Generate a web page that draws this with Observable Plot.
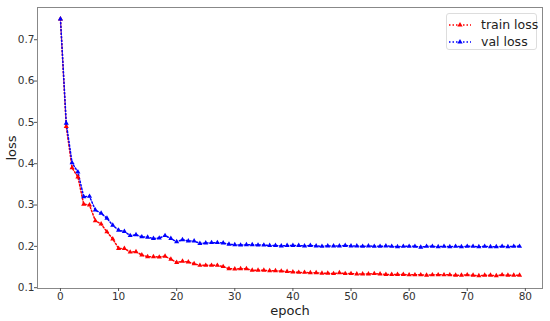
<!DOCTYPE html>
<html>
<head>
<meta charset="utf-8">
<script src="https://cdn.jsdelivr.net/npm/d3@7"></script>
<script src="https://cdn.jsdelivr.net/npm/@observablehq/plot@0.6"></script>
<style>
  html, body { margin: 0; padding: 0; background: #fff; }
  #wrap { position: relative; width: 550px; height: 321px; font-family: "DejaVu Sans", sans-serif; }
  #legend { position: absolute; left: 446px; top: 13px; width: 91px; height: 37px; border: 1px solid #ddd; border-radius: 3px; background: rgba(255,255,255,0.85); font-size: 12.5px; color: #222; box-sizing: border-box; }
  .row { position: absolute; left: 1px; height: 17px; display: flex; align-items: center; white-space: nowrap; }
  .row span { margin-left: 9px; }
</style>
</head>
<body>
<div id="wrap"></div>
<script>
const epochs = d3.range(0, 80);
const trainLoss = [0.750,0.490,0.390,0.368,0.302,0.300,0.262,0.254,0.235,0.218,
  0.195,0.195,0.186,0.187,0.179,0.175,0.175,0.174,0.176,0.169,
  0.161,0.164,0.162,0.158,0.154,0.154,0.154,0.154,0.151,0.146,
  0.145,0.146,0.146,0.142,0.142,0.142,0.141,0.141,0.140,0.139,
  0.138,0.137,0.137,0.136,0.136,0.135,0.135,0.134,0.136,0.134,
  0.134,0.133,0.133,0.133,0.134,0.133,0.132,0.132,0.132,0.132,
  0.131,0.131,0.131,0.130,0.131,0.131,0.131,0.131,0.130,0.130,
  0.131,0.130,0.129,0.130,0.130,0.129,0.131,0.130,0.130,0.130];
const valLoss = [0.750,0.498,0.402,0.380,0.320,0.321,0.288,0.280,0.268,0.251,
  0.239,0.236,0.226,0.228,0.223,0.222,0.219,0.220,0.226,0.219,
  0.211,0.216,0.213,0.213,0.207,0.208,0.209,0.209,0.208,0.205,
  0.204,0.203,0.204,0.204,0.203,0.203,0.202,0.202,0.201,0.202,
  0.202,0.202,0.201,0.202,0.201,0.200,0.201,0.201,0.201,0.202,
  0.201,0.201,0.200,0.201,0.200,0.200,0.201,0.200,0.199,0.200,
  0.200,0.200,0.198,0.200,0.200,0.199,0.200,0.199,0.200,0.199,
  0.200,0.200,0.199,0.200,0.199,0.199,0.200,0.199,0.200,0.200];
const seriesNames = ["train loss", "val loss"];
const seriesColors = ["red", "blue"];
const xTicks = [0, 10, 20, 30, 40, 50, 60, 70, 80];
const yTicks = [0.1, 0.2, 0.3, 0.4, 0.5, 0.6, 0.7];

const data = [];
epochs.forEach((e, i) => {
  data.push({epoch: e, loss: trainLoss[i], series: seriesNames[0]});
  data.push({epoch: e, loss: valLoss[i], series: seriesNames[1]});
});

const plot = Plot.plot({
  width: 550,
  height: 321,
  marginLeft: 37,
  marginRight: 8,
  marginTop: 7,
  marginBottom: 33,
  style: {fontFamily: "DejaVu Sans, sans-serif", fontSize: "10.5px", color: "#333", background: "white"},
  x: {domain: [-3.95, 82.95]},
  y: {domain: [0.098, 0.778]},
  color: {domain: seriesNames, range: seriesColors},
  marks: [
    Plot.frame({stroke: "#888", strokeWidth: 1}),
    Plot.axisX({ticks: xTicks, tickSize: 3, tickPadding: 1, stroke: "#555", label: null, fontSize: 10.5}),
    Plot.axisY({ticks: yTicks, tickSize: 3, tickPadding: 0, stroke: "#555", label: null, tickFormat: d3.format(".1f"), fontSize: 10.5}),
    Plot.line(data, {x: "epoch", y: "loss", z: "series", stroke: "series", strokeWidth: 1.5, strokeDasharray: "1.5,2"}),
    Plot.dot(data, {x: "epoch", y: "loss", fill: "series", symbol: "triangle", r: 1.9, stroke: null}),
    Plot.text(["epoch"], {frameAnchor: "bottom", lineAnchor: "middle", textAnchor: "middle", dy: 22.5, fontSize: 13, fill: "#222"}),
    Plot.text(["loss"], {frameAnchor: "left", lineAnchor: "middle", textAnchor: "middle", dx: -26, rotate: -90, fontSize: 13, fill: "#222"})
  ]
});
const wrap = document.getElementById("wrap");
wrap.appendChild(plot);

const legend = document.createElement("div");
legend.id = "legend";
seriesNames.forEach((name, i) => {
  const row = document.createElement("div");
  row.className = "row";
  row.style.top = (2 + i * 17) + "px";
  const svg = d3.create("svg").attr("width", 24).attr("height", 10);
  svg.append("line").attr("x1", 1).attr("x2", 23).attr("y1", 5).attr("y2", 5)
    .attr("stroke", seriesColors[i]).attr("stroke-width", 1.5).attr("stroke-dasharray", "1.5,2");
  svg.append("path").attr("d", d3.symbol(d3.symbolTriangle, 12)()).attr("transform", "translate(12,5)")
    .attr("fill", seriesColors[i]);
  row.appendChild(svg.node());
  const s = document.createElement("span");
  s.textContent = name;
  row.appendChild(s);
  legend.appendChild(row);
});
wrap.appendChild(legend);
</script>
</body>
</html>
